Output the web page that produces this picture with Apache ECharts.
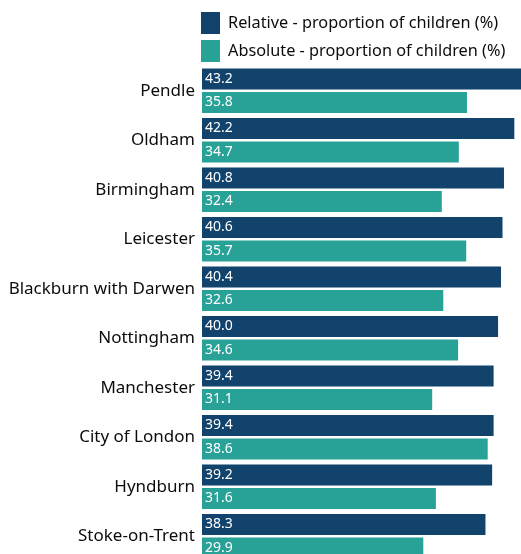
<!DOCTYPE html>
<html><head><meta charset="utf-8">
<script src="https://cdn.jsdelivr.net/npm/echarts@6/dist/echarts.min.js"></script>
<style>html,body{margin:0;padding:0;background:#fff;overflow:hidden}#c{width:521px;height:600px}</style>
</head><body><div id="c"></div>
<script>
const categories = ["Pendle","Oldham","Birmingham","Leicester","Blackburn with Darwen","Nottingham","Manchester","City of London","Hyndburn","Stoke-on-Trent"];
const relative = [43.2,42.2,40.8,40.6,40.4,40.0,39.4,39.4,39.2,38.3];
const absolute = [35.8,34.7,32.4,35.7,32.6,34.6,31.1,38.6,31.6,29.9];
const seriesNames = ["Relative - proportion of children (%)","Absolute - proportion of children (%)"];

const chart = echarts.init(document.getElementById('c'), null, {renderer:'canvas'});
const font = "'Noto Sans', Roboto, sans-serif";
const lbl = {show:true, position:'insideLeft', distance:3, color:'#fff', fontSize:14, fontFamily:font,
  formatter: p => p.value.toFixed(1)};
chart.setOption({
  animation:false,
  legend:{orient:'vertical', left:201, top:12, padding:0, itemWidth:19, itemHeight:22, itemGap:6,
    icon:'rect', textStyle:{fontSize:16.3, color:'#0b0c0c', fontFamily:font, padding:[0,0,0,3]},
    data:seriesNames},
  grid:{left:202, top:66, right:0, height:495, containLabel:false},
  xAxis:{type:'value', min:0, max:43.1, show:false},
  yAxis:{type:'category', data:categories, inverse:true,
    axisLine:{show:false}, axisTick:{show:false},
    axisLabel:{fontSize:17, color:'#0b0c0c', fontFamily:font, margin:7}},
  series:[
    {name:seriesNames[0], type:'bar', data:relative, barWidth:21, barGap:'12%',
     itemStyle:{color:'#12436D'}, label:lbl},
    {name:seriesNames[1], type:'bar', data:absolute, barWidth:21,
     itemStyle:{color:'#28A197'}, label:lbl}
  ]
});
</script></body></html>
